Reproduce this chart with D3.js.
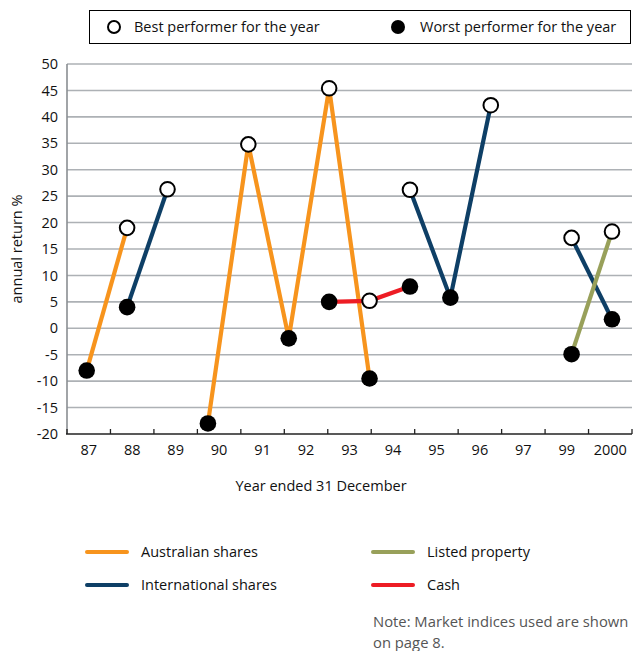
<!DOCTYPE html>
<html>
<head>
<meta charset="utf-8">
<script src="https://cdn.jsdelivr.net/npm/d3@7/dist/d3.min.js"></script>
<style>
  html, body { margin: 0; padding: 0; background: #fff; }
  svg { display: block; font-family: "Open Sans", "Noto Sans", sans-serif; }
</style>
</head>
<body>
<svg id="chart" width="635" height="651"></svg>
<script>
// Axis labels along the bottom
const yearLabels = ["87", "88", "89", "90", "91", "92", "93", "94", "95", "96", "97", "99", "2000"];
const yTicks = [-20, -15, -10, -5, 0, 5, 10, 15, 20, 25, 30, 35, 40, 45, 50];

// Annual returns (%) per asset class; each run is a connected segment
const australianShares = [
  [[1987, -8], [1988, 19]],
  [[1990, -18], [1991, 34.8], [1992, -1.9], [1993, 45.4], [1994, -9.5]]
];
const internationalShares = [
  [[1988, 4], [1989, 26.3]],
  [[1995, 26.2], [1996, 5.8], [1997, 42.2]],
  [[1999, 17.1], [2000, 1.7]]
];
const cash = [
  [[1993, 5.0], [1994, 5.2], [1995, 7.9]]
];
const listedProperty = [
  [[1999, -4.9], [2000, 18.3]]
];

// Best (open) and worst (filled) performers
const bestPoints = [
  [1988, 19], [1989, 26.3], [1991, 34.8], [1993, 45.4], [1994, 5.2],
  [1995, 26.2], [1997, 42.2], [1999, 17.1], [2000, 18.3]
];
const worstPoints = [
  [1987, -8], [1988, 4], [1990, -18], [1992, -1.9], [1993, 5.0],
  [1994, -9.5], [1995, 7.9], [1996, 5.8], [1999, -4.9], [2000, 1.7]
];

const seriesNames = ["Australian shares", "International shares", "Listed property", "Cash"];
const seriesColors = ["#f7941d", "#0e3f66", "#98a05a", "#ed1c24"];
const seriesData = [australianShares, internationalShares, listedProperty, cash];

const svg = d3.select("#chart");
const plot = { left: 67, right: 632, top: 64, bottom: 434 };

const y = d3.scaleLinear().domain([-20, 50]).range([plot.bottom, plot.top]);
const xBand = d3.scaleBand().domain(yearLabels).range([plot.left, plot.right]);
const x = d3.scaleLinear().domain([1987, 2000]).range([86.7, 612]);

// Horizontal gridlines
svg.append("g")
  .selectAll("line")
  .data(yTicks.filter(t => t > -20))
  .join("line")
  .attr("x1", plot.left).attr("x2", plot.right)
  .attr("y1", d => y(d)).attr("y2", d => y(d))
  .attr("stroke", "#adb1b5").attr("stroke-width", 1.6);

// Left axis line
svg.append("line")
  .attr("x1", plot.left).attr("x2", plot.left)
  .attr("y1", plot.top).attr("y2", plot.bottom)
  .attr("stroke", "#8a8e92").attr("stroke-width", 1.6);

// Y tick labels
svg.append("g")
  .selectAll("text")
  .data(yTicks)
  .join("text")
  .attr("x", 58).attr("y", d => y(d))
  .attr("dy", "0.35em")
  .attr("text-anchor", "end")
  .attr("font-size", 14.5)
  .attr("fill", "#111")
  .text(d => d);

// Bottom axis with inward ticks at band boundaries
const xAxis = d3.axisBottom(xBand).tickSize(0).tickPadding(11);
const gx = svg.append("g")
  .attr("transform", `translate(0,${plot.bottom})`)
  .call(xAxis);
gx.select(".domain").remove();
gx.selectAll("text").attr("font-size", 14.5).attr("fill", "#111")
  .attr("font-family", "\"Open Sans\", \"Noto Sans\", sans-serif");
svg.append("line")
  .attr("x1", plot.left - 1).attr("x2", plot.right)
  .attr("y1", plot.bottom).attr("y2", plot.bottom)
  .attr("stroke", "#222").attr("stroke-width", 1.6);
const boundaries = yearLabels.map(d => xBand(d) + xBand.bandwidth()).concat([plot.left]);
svg.append("g")
  .selectAll("line")
  .data(boundaries)
  .join("line")
  .attr("x1", d => d).attr("x2", d => d)
  .attr("y1", plot.bottom).attr("y2", plot.bottom - 5)
  .attr("stroke", "#222").attr("stroke-width", 1.3);

// Axis titles
svg.append("text")
  .attr("transform", `translate(22,${(plot.top + plot.bottom) / 2}) rotate(-90)`)
  .attr("text-anchor", "middle")
  .attr("font-size", 14.5)
  .attr("fill", "#111")
  .text("annual return %");
svg.append("text")
  .attr("x", 321).attr("y", 491)
  .attr("text-anchor", "middle")
  .attr("font-size", 14.5)
  .attr("fill", "#111")
  .text("Year ended 31 December");

// Series lines
const line = d3.line().x(d => x(d[0])).y(d => y(d[1]));
seriesData.forEach((segments, i) => {
  svg.append("g")
    .selectAll("path")
    .data(segments)
    .join("path")
    .attr("d", line)
    .attr("fill", "none")
    .attr("stroke", seriesColors[i])
    .attr("stroke-width", 4.2)
    .attr("stroke-linejoin", "miter")
    .attr("stroke-miterlimit", 4);
});

// Markers
svg.append("g")
  .selectAll("circle")
  .data(worstPoints)
  .join("circle")
  .attr("cx", d => x(d[0])).attr("cy", d => y(d[1]))
  .attr("r", 8.3)
  .attr("fill", "#000");
svg.append("g")
  .selectAll("circle")
  .data(bestPoints)
  .join("circle")
  .attr("cx", d => x(d[0])).attr("cy", d => y(d[1]))
  .attr("r", 7.3)
  .attr("fill", "#fff")
  .attr("stroke", "#000")
  .attr("stroke-width", 2);

// Top legend box
const topLegend = svg.append("g");
topLegend.append("rect")
  .attr("x", 89.5).attr("y", 10.5).attr("width", 541).attr("height", 33)
  .attr("fill", "#fff").attr("stroke", "#000").attr("stroke-width", 1);
topLegend.append("circle")
  .attr("cx", 114).attr("cy", 27).attr("r", 6)
  .attr("fill", "#fff").attr("stroke", "#000").attr("stroke-width", 2);
topLegend.append("text")
  .attr("x", 134).attr("y", 27).attr("dy", "0.35em")
  .attr("font-size", 14.5).attr("fill", "#111")
  .text("Best performer for the year");
topLegend.append("circle")
  .attr("cx", 398).attr("cy", 27).attr("r", 7)
  .attr("fill", "#000");
topLegend.append("text")
  .attr("x", 420).attr("y", 27).attr("dy", "0.35em")
  .attr("font-size", 14.5).attr("fill", "#111")
  .text("Worst performer for the year");

// Series legend
const legendPos = [[87, 552], [87, 585], [373, 552], [373, 585]];
const legend = svg.append("g")
  .selectAll("g")
  .data(seriesNames)
  .join("g")
  .attr("transform", (d, i) => `translate(${legendPos[i][0]},${legendPos[i][1]})`);
legend.append("line")
  .attr("x1", 0).attr("x2", 40)
  .attr("stroke", (d, i) => seriesColors[i])
  .attr("stroke-width", 4)
  .attr("stroke-linecap", "round");
legend.append("text")
  .attr("x", 54).attr("dy", "0.35em")
  .attr("font-size", 14.5).attr("fill", "#111")
  .text(d => d);

// Footnote
const note = svg.append("text")
  .attr("x", 373).attr("y", 627)
  .attr("font-size", 14.8).attr("fill", "#555");
note.append("tspan").attr("x", 373).text("Note: Market indices used are shown");
note.append("tspan").attr("x", 373).attr("dy", 21).text("on page 8.");
</script>
</body>
</html>
